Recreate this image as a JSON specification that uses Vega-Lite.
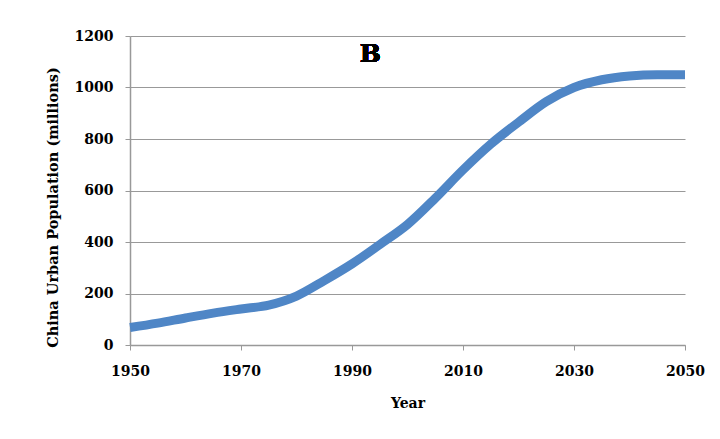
{
  "$schema": "https://vega.github.io/schema/vega-lite/v6.json",
  "autosize": "none",
  "width": 555,
  "height": 309,
  "padding": {"left": 130, "top": 36, "right": 35, "bottom": 94},
  "background": "white",
  "config": {"view": {"stroke": null}},
  "data": {"values": [
    {"year": 1950, "pop": 68}, {"year": 1955, "pop": 85}, {"year": 1960, "pop": 105},
    {"year": 1965, "pop": 124}, {"year": 1970, "pop": 140}, {"year": 1975, "pop": 155},
    {"year": 1980, "pop": 190}, {"year": 1985, "pop": 250}, {"year": 1990, "pop": 315},
    {"year": 1995, "pop": 390}, {"year": 2000, "pop": 468}, {"year": 2005, "pop": 570},
    {"year": 2010, "pop": 680}, {"year": 2015, "pop": 780}, {"year": 2020, "pop": 865},
    {"year": 2025, "pop": 945}, {"year": 2030, "pop": 1000}, {"year": 2035, "pop": 1030},
    {"year": 2040, "pop": 1045}, {"year": 2045, "pop": 1050}, {"year": 2050, "pop": 1050}
  ]},
  "layer": [
    {
      "mark": {"type": "line", "color": "#4F86C6", "strokeWidth": 9, "interpolate": "monotone"},
      "encoding": {
        "x": {"field": "year", "type": "quantitative",
          "scale": {"domain": [1950, 2050], "nice": false},
          "axis": {"values": [1950, 1970, 1990, 2010, 2030, 2050], "format": "d", "grid": false,
            "labelFlush": false, "labelOverlap": false, "labelBound": false,
            "title": "Year", "titleFont": "DejaVu Serif", "titleFontSize": 14, "titleFontWeight": "bold",
            "titleColor": "#000", "titlePadding": 18,
            "labelFont": "DejaVu Serif", "labelFontSize": 14, "labelFontWeight": "bold", "labelColor": "#000",
            "labelPadding": 14, "tickSize": 5, "tickColor": "#999", "domainColor": "#999", "domainWidth": 1.5}},
        "y": {"field": "pop", "type": "quantitative",
          "scale": {"domain": [0, 1200], "nice": false},
          "axis": {"values": [0, 200, 400, 600, 800, 1000, 1200], "format": "d", "grid": true, "gridColor": "#999", "gridWidth": 1.2,
            "labelFlush": false, "labelOverlap": false,
            "title": "China Urban Population (millions)", "titleFont": "DejaVu Serif", "titleFontSize": 14.5,
            "titleFontWeight": "bold", "titleColor": "#000", "titlePadding": 14, "titleY": 171,
            "labelFont": "DejaVu Serif", "labelFontSize": 14, "labelFontWeight": "bold", "labelColor": "#000",
            "labelPadding": 12, "tickSize": 5, "tickColor": "#999", "domainColor": "#999", "domainWidth": 1.5}}
      }
    },
    {
      "mark": {"type": "text", "font": "DejaVu Serif", "fontWeight": "bold", "fontSize": 25, "color": "#000"},
      "encoding": {
        "x": {"datum": 1993.3, "type": "quantitative"},
        "y": {"datum": 1130, "type": "quantitative"},
        "text": {"value": "B"}
      }
    }
  ]
}
